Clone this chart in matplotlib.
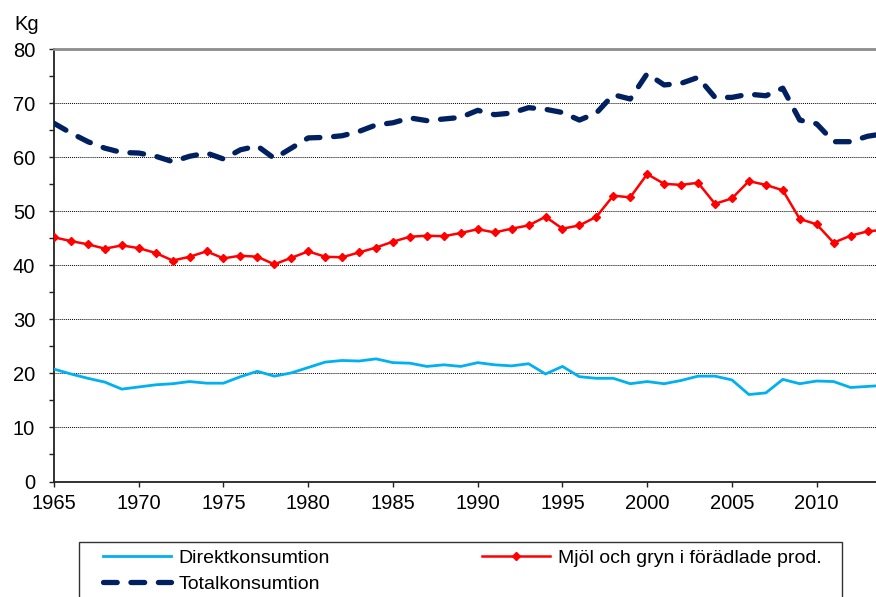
import matplotlib
matplotlib.use('Agg')
import matplotlib.pyplot as plt
from matplotlib.patches import Rectangle
from matplotlib.ticker import MultipleLocator

plt.rcParams['font.family'] = ['Liberation Sans', 'DejaVu Sans']

years = list(range(1965, 2015))
direkt = [20.8, 19.9, 19.1, 18.4, 17.1, 17.5, 17.9, 18.1, 18.5, 18.2,
          18.2, 19.4, 20.4, 19.5, 20.1, 21.1, 22.1, 22.4, 22.3, 22.7,
          22.0, 21.9, 21.3, 21.6, 21.3, 22.0, 21.6, 21.4, 21.8, 19.9,
          21.3, 19.4, 19.1, 19.1, 18.1, 18.5, 18.1, 18.7, 19.5, 19.5,
          18.8, 16.1, 16.4, 18.9, 18.1, 18.6, 18.5, 17.4, 17.6, 17.8]
mjol = [45.2, 44.5, 43.9, 43.1, 43.7, 43.2, 42.3, 40.9, 41.6, 42.6,
        41.3, 41.8, 41.6, 40.2, 41.4, 42.6, 41.6, 41.5, 42.4, 43.3,
        44.4, 45.3, 45.5, 45.4, 46.0, 46.7, 46.1, 46.8, 47.4, 49.0,
        46.8, 47.4, 49.0, 52.9, 52.6, 56.9, 55.1, 54.9, 55.3, 51.4,
        52.4, 55.6, 54.9, 53.9, 48.6, 47.6, 44.2, 45.5, 46.3, 46.6]
total = [66.3, 64.5, 62.9, 61.7, 60.9, 60.8, 60.2, 59.2, 60.2, 60.8,
         59.7, 61.4, 62.1, 59.8, 61.7, 63.6, 63.7, 64.0, 64.8, 66.0,
         66.4, 67.3, 66.8, 67.1, 67.4, 68.7, 67.9, 68.2, 69.2, 68.9,
         68.3, 66.9, 68.2, 71.6, 70.8, 75.5, 73.4, 73.7, 74.8, 71.1,
         71.1, 71.7, 71.4, 72.8, 66.9, 66.2, 62.9, 62.9, 63.9, 64.4]
xticks = list(range(1965, 2011, 5))
labels = ['Direktkonsumtion', 'Mjöl och gryn i förädlade prod.', 'Totalkonsumtion']

W, H = 876, 597
fig = plt.figure(figsize=(W / 100, H / 100), dpi=100)
ax = fig.add_axes([54 / W, 1 - 481.5 / H, 1 - 54 / W, (481.5 - 49.3) / H])

l1, = ax.plot(years, direkt, color='#00B0F0', lw=2.0, zorder=3)
l2, = ax.plot(years, mjol, color='#FF0000', lw=1.8, marker='D', markersize=3.6, zorder=4)
l3, = ax.plot(years, total, color='#002060', lw=3.8, linestyle=(0, (2.6, 2.6)),
              dash_capstyle='round', zorder=5)

ax.set_xlim(1965, 2013.5)
ax.set_ylim(0, 80)
ax.set_xticks(xticks)
ax.yaxis.set_major_locator(MultipleLocator(10))
ax.yaxis.set_minor_locator(MultipleLocator(5))
ax.tick_params(axis='y', which='both', direction='out', length=3.6, width=1.0,
               pad=10, labelsize=14.5, color='#222222')
ax.tick_params(axis='x', which='major', direction='out', length=3.3, width=1.0,
               pad=6, labelsize=14.5, color='#222222')
ax.grid(axis='y', which='major', linestyle=(0, (1, 1)), color='black', lw=0.7)
ax.set_axisbelow(True)
for s in ['left', 'bottom']:
    ax.spines[s].set_color('#222222')
    ax.spines[s].set_linewidth(1.3)
ax.spines['top'].set_color('#8c8c8c')
ax.spines['top'].set_linewidth(2)
ax.spines['right'].set_visible(False)

fig.text(14 / W, 1 - 15 / H, 'Kg', fontsize=14.5, va='top', ha='left')

leg = fig.legend([l1, l3, l2], [labels[0], labels[2], labels[1]], ncol=2,
                 loc='upper left', bbox_to_anchor=(103 / W, 1 - 549 / H),
                 frameon=False, fontsize=14, borderpad=0, borderaxespad=0,
                 handlelength=3.5, handletextpad=0.4, columnspacing=7.8,
                 labelspacing=0.45, numpoints=1)
fig.patches.append(Rectangle((79 / W, -0.05), (842 - 79) / W, (597 - 541.7) / H + 0.05,
                             transform=fig.transFigure, fill=False,
                             edgecolor='#333333', lw=1.0))

fig.savefig('out.png', dpi=100)
